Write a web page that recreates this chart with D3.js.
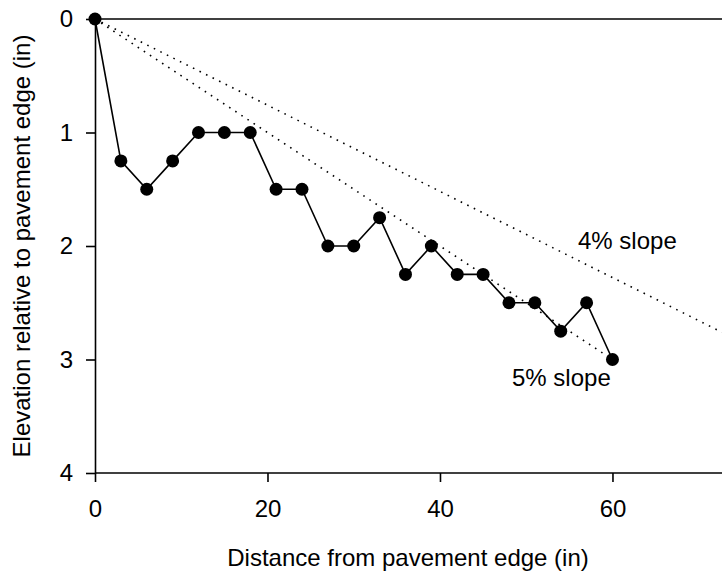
<!DOCTYPE html>
<html>
<head>
<meta charset="utf-8">
<script src="https://cdn.jsdelivr.net/npm/d3@7"></script>
<style>
  body { margin: 0; background: #fff; }
  svg text { font-family: "Liberation Sans", Arial, sans-serif; fill: #000; }
</style>
</head>
<body>
<svg id="chart" width="722" height="576"></svg>
<script>
// Measured profile: distance from pavement edge (in) vs. elevation (in)
const distance = [0, 3, 6, 9, 12, 15, 18, 21, 24, 27, 30, 33, 36, 39, 42, 45, 48, 51, 54, 57, 60];
const elevation = [0, 1.25, 1.5, 1.25, 1, 1, 1, 1.5, 1.5, 2, 2, 1.75, 2.25, 2, 2.25, 2.25, 2.5, 2.5, 2.75, 2.5, 3];

// Reference slope lines (start and end points)
const slope4 = [[0, 0], [72.7, 2.76]];
const slope5 = [[0, 0], [60, 3]];

const xTicks = [0, 20, 40, 60];
const yTicks = [0, 1, 2, 3, 4];

const svg = d3.select("#chart");
const plotLeft = 95, plotRight = 722, plotTop = 19, plotBottom = 473;
const fontSize = "24px";

const x = d3.scaleLinear().domain([0, 72.7]).range([plotLeft, plotRight]);
const y = d3.scaleLinear().domain([0, 4]).range([plotTop, plotBottom]);

// Axes
const xAxis = svg.append("g")
  .attr("transform", `translate(0,${plotBottom})`)
  .call(d3.axisBottom(x).tickValues(xTicks).tickFormat(d3.format("d"))
    .tickSize(9).tickPadding(18).tickSizeOuter(0));
const yAxis = svg.append("g")
  .attr("transform", `translate(${plotLeft},0)`)
  .call(d3.axisLeft(y).tickValues(yTicks).tickFormat(d3.format("d"))
    .tickSize(9).tickPadding(13).tickSizeOuter(0));

[xAxis, yAxis].forEach(g => {
  g.select(".domain").attr("stroke", "#000").attr("stroke-width", 1.6);
  g.selectAll(".tick line").attr("stroke", "#000").attr("stroke-width", 1.6);
  g.selectAll(".tick text").style("font-size", fontSize).attr("fill", "#000");
});
xAxis.select(".domain").attr("d", `M${plotLeft},0H${plotRight}`);

// Top frame line
svg.append("line")
  .attr("x1", plotLeft).attr("x2", plotRight)
  .attr("y1", plotTop).attr("y2", plotTop)
  .attr("stroke", "#000").attr("stroke-width", 1.6);

// Slope reference lines
const line = d3.line().x(d => x(d[0])).y(d => y(d[1]));
[slope4, slope5].forEach(s => {
  svg.append("path")
    .attr("d", line(s))
    .attr("fill", "none")
    .attr("stroke", "#000")
    .attr("stroke-width", 1.6)
    .attr("stroke-dasharray", "1.6,5.7");
});

// Profile line and markers
const pts = distance.map((d, i) => [d, elevation[i]]);
svg.append("path")
  .attr("d", line(pts))
  .attr("fill", "none")
  .attr("stroke", "#000")
  .attr("stroke-width", 1.6);
svg.selectAll("circle.pt")
  .data(pts)
  .join("circle")
  .attr("class", "pt")
  .attr("cx", d => x(d[0]))
  .attr("cy", d => y(d[1]))
  .attr("r", 6.5)
  .attr("fill", "#000");

// Slope labels
svg.append("text").attr("x", 578).attr("y", 249).style("font-size", fontSize).text("4% slope");
svg.append("text").attr("x", 512).attr("y", 386).style("font-size", fontSize).text("5% slope");

// Axis titles
svg.append("text")
  .attr("x", 408).attr("y", 566)
  .attr("text-anchor", "middle")
  .style("font-size", fontSize)
  .text("Distance from pavement edge (in)");
svg.append("text")
  .attr("transform", `translate(30,${(plotTop + plotBottom) / 2}) rotate(-90)`)
  .attr("text-anchor", "middle")
  .style("font-size", fontSize)
  .text("Elevation relative to pavement edge (in)");
</script>
</body>
</html>
